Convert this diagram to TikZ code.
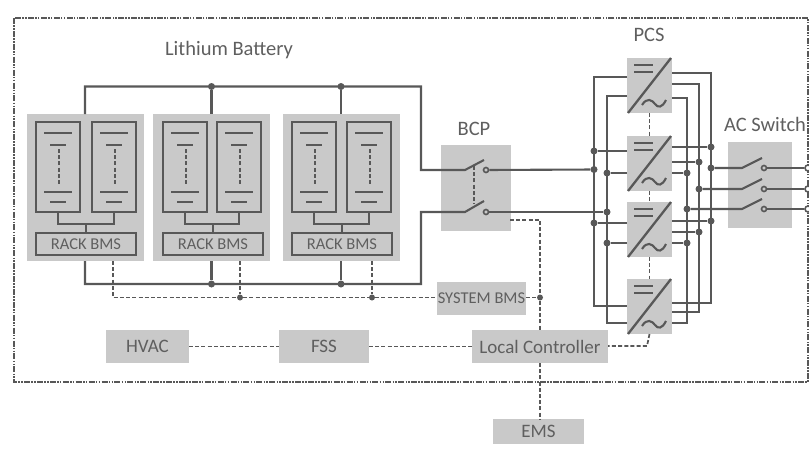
\documentclass[tikz,border=0pt]{standalone}
\usepackage{fontspec}
\setmainfont{Carlito}
\definecolor{boxg}{HTML}{C9C9C9}
\definecolor{linec}{HTML}{585858}
\definecolor{textc}{HTML}{5F5F5F}
\tikzset{
  greybox/.style={fill=boxg,draw=none,inner sep=0pt,outer sep=0pt,text=textc},
  unitbox/.style={draw=linec,line width=2pt,inner sep=0pt,outer sep=0pt,text=textc},
  wire/.style={draw=linec,line width=2.1pt},
  innerwire/.style={draw=linec,line width=1.9pt},
  dashwire/.style={draw=linec,line width=1.7pt,dash pattern=on 4pt off 2.2pt},
  dot/.style={circle,fill=linec,inner sep=0pt,minimum size=7pt},
  open/.style={circle,draw=linec,fill=white,line width=1.6pt,inner sep=0pt,minimum size=6pt},
  label/.style={text=textc,inner sep=0pt},
  biglabel/.style={label,font=\fontsize{20.5}{24}\selectfont},
  smalltext/.style={font=\fontsize{16.5}{18}\selectfont},
  midtext/.style={font=\fontsize{19}{22}\selectfont},
}
\begin{document}
\begin{tikzpicture}[x=1pt,y=-1pt,line join=miter]
\useasboundingbox (0,0) rectangle (809,448);
% outer boundary
\draw[draw=linec,line width=1.5pt,dash pattern=on 6pt off 1.3pt on 1.5pt off 1.3pt on 1.5pt off 1.3pt] (14,18) rectangle (808,382);
% labels
\node[biglabel] (lb) at (229,50) {Lithium Battery};
\node[biglabel] (bcpl) at (474,129) {BCP};
\node[biglabel] (pcsl) at (649,35) {PCS};
\node[biglabel] (acl) at (765,124) {AC Switch};
% rack groups
\foreach \n/\xo/\xa/\xb/\stem in {1/27/9/65/86,2/153/10/64/212,3/283/9/64/341}{
  \begin{scope}[shift={(\xo,0)}]
    \node[greybox,minimum width=117pt,minimum height=147pt] (g\n) at (58.5,187.5) {};
    \foreach \m/\xs in {a/\xa,b/\xb}{
      \node[unitbox,minimum width=44pt,minimum height=90pt] (u\n\m) at (\xs+22,167) {};
      \draw[innerwire] (\xs+8,133) -- (\xs+36,133);
      \draw[innerwire] (\xs+14,145) -- (\xs+30,145);
      \draw[dashwire] (\xs+23,149) -- (\xs+23,186);
      \draw[innerwire] (\xs+8,192) -- (\xs+36,192);
      \draw[innerwire] (\xs+14,202) -- (\xs+30,202);
    }
    \node[unitbox,minimum width=100pt,minimum height=22pt,smalltext] (r\n) at (\xa+50,244) {RACK BMS};
    \draw[innerwire] (u\n a.south) -- (\xa+22,224) -- (\xb+22,224) -- (u\n b.south);
    \draw[innerwire] (r\n.north) -- (\xa+50,224);
  \end{scope}
}
% bus coordinates
\coordinate (bt) at (421,86.5);
\coordinate (bb) at (421,284);
\node[dot] (jt2) at (g2.north |- bt) {};
\node[dot] (jt3) at (341,86.5) {};
\node[dot] (jb2) at (g2.south |- bb) {};
\node[dot] (jb3) at (341,284) {};
% BCP
\node[greybox,minimum width=70pt,minimum height=86pt] (bcp) at (476,188) {};
\coordinate (s1a) at (465,170);
\coordinate (s2a) at (465,212);
\coordinate (s1t) at (484,160);
\coordinate (s2t) at (484,201);
\node[open,fill=boxg,minimum size=5pt] (c1) at (486,170) {};
\node[open,fill=boxg,minimum size=5pt] (c2) at (486,212) {};
% DC bus
\draw[wire] (85,114) -- (85,86.5) -- (bt) -- (421,170) -- (s1a) -- (s1t);
\draw[wire] (jt2) -- (g2.north |- g1.north);
\draw[wire] (jt3) -- (341,114);
\draw[wire] (85,261) -- (85,284) -- (bb) -- (421,212) -- (s2a) -- (s2t);
\draw[wire] (jb2) -- (g2.south);
\draw[wire] (jb3) -- (341,261);
\draw[dashwire] (474,166) -- (474,204);
% System BMS etc
\node[greybox,minimum width=89pt,minimum height=33pt,smalltext] (sys) at (481.5,298.5) {SYSTEM BMS};
\node[greybox,minimum width=83pt,minimum height=33pt,midtext] (hvac) at (147.5,346.5) {HVAC};
\node[greybox,minimum width=90pt,minimum height=33pt,midtext] (fss) at (324,346.5) {FSS};
\node[greybox,minimum width=136pt,minimum height=33pt,midtext] (lc) at (540,346.5) {Local Controller};
\node[greybox,minimum width=91pt,minimum height=25pt,midtext] (ems) at (538.5,431) {EMS};
\node[dot,minimum size=6pt] (d2) at (240,297.5) {};
\node[dot,minimum size=6pt] (d3) at (372,297.5) {};
\node[dot,minimum size=6pt] (d4) at (540,297.5) {};
\draw[dashwire] (113,261) -- (113,297.5) -- (d2);
\draw[dashwire] (d2) -- (d3);
\draw[dashwire] (d3) -- (sys.west |- d3);
\draw[dashwire] (240,261) -- (d2);
\draw[dashwire] (372,261) -- (d3);
\draw[dashwire] (sys.east |- d4) -- (d4);
\draw[dashwire] (510,220) -- (540,220) -- (d4);
\draw[dashwire] (d4) -- (540,331);
\draw[dashwire] (540,363) -- (540,419);
\draw[dashwire] (hvac) -- (fss);
\draw[dashwire] (fss) -- (lc);
% PCS
\foreach \n/\yt in {1/58,2/136,3/202,4/279}{
  \node[greybox,minimum width=45pt,minimum height=55pt] (p\n) at (649.5,\yt+27.5) {};
  \begin{scope}[shift={(627,\yt)}]
    \draw[wire,line width=2.3pt] (1,55) -- (44,0);
    \draw[wire] (7,7) -- (26,7);
    \draw[wire] (7,14) -- (26,14);
    \draw[wire] (15,47) .. controls (20,39) and (25,42) .. (28,46) .. controls (31,50) and (35,50) .. (39,42);
  \end{scope}
}
\draw[dashwire] (p1.south) -- (p2.north);
\draw[dashwire] (p2.south) -- (p3.north);
\draw[dashwire] (p3.south) -- (p4.north);
\draw[dashwire] (p4.south) -- (647,346) -- (lc.east |- 0,346);
% PCS DC side
\coordinate (la) at (594,0);
\coordinate (lb2) at (607,0);
\draw[wire] (p1.west |- 0,77) -- (la |- 0,77) -- (la |- 0,306) -- (p4.west |- 0,306);
\draw[wire] (p1.west |- 0,96) -- (lb2 |- 0,96) -- (lb2 |- 0,323) -- (p4.west |- 0,323);
\foreach \n/\ya/\yb in {2/151/173,3/223/243}{
  \node[dot] (pa\n) at (la |- 0,\ya) {};
  \node[dot] (pb\n) at (lb2 |- 0,\yb) {};
  \draw[wire] (pa\n) -- (p\n.west |- pa\n);
  \draw[wire] (pb\n) -- (p\n.west |- pb\n);
}
\node[dot] (fa) at (la |- 0,169.5) {};
\node[dot] (fb) at (lb2 |- 0,212) {};
\draw[wire] (c1) -- (fa);
\draw[wire] (c2) -- (fb);
% PCS AC side
\coordinate (ra) at (711,0);
\coordinate (rb) at (699,0);
\coordinate (rc) at (687,0);
\draw[wire] (p1.east |- 0,73) -- (ra |- 0,73) -- (ra |- 0,303) -- (p4.east |- 0,303);
\draw[wire] (p1.east |- 0,84) -- (rb |- 0,84) -- (rb |- 0,312) -- (p4.east |- 0,312);
\draw[wire] (p1.east |- 0,98) -- (rc |- 0,98) -- (rc |- 0,323) -- (p4.east |- 0,323);
\foreach \n/\ya/\yb/\yc in {2/147/162/173,3/221/232/243}{
  \node[dot] (qa\n) at (ra |- 0,\ya) {};
  \node[dot] (qb\n) at (rb |- 0,\yb) {};
  \node[dot] (qc\n) at (rc |- 0,\yc) {};
  \draw[wire] (p\n.east |- qa\n) -- (qa\n);
  \draw[wire] (p\n.east |- qb\n) -- (qb\n);
  \draw[wire] (p\n.east |- qc\n) -- (qc\n);
}
% AC switch
\node[greybox,minimum width=64pt,minimum height=86pt] (ac) at (760,185) {};
\foreach \k/\yy/\xx in {a/168/ra,b/189/rb,c/209/rc}{
  \node[dot] (ja\k) at (\xx |- 0,\yy) {};
  \coordinate (sa\k) at (742,\yy);
  \coordinate (st\k) at (762,\yy-10);
  \node[open,fill=boxg,minimum size=5pt] (ca\k) at (764,\yy) {};
  \node[open,minimum size=6pt] (oa\k) at (808,\yy) {};
  \draw[wire] (ja\k) -- (sa\k) -- (st\k);
  \draw[wire] (ca\k) -- (oa\k);
}
\end{tikzpicture}
\end{document}
